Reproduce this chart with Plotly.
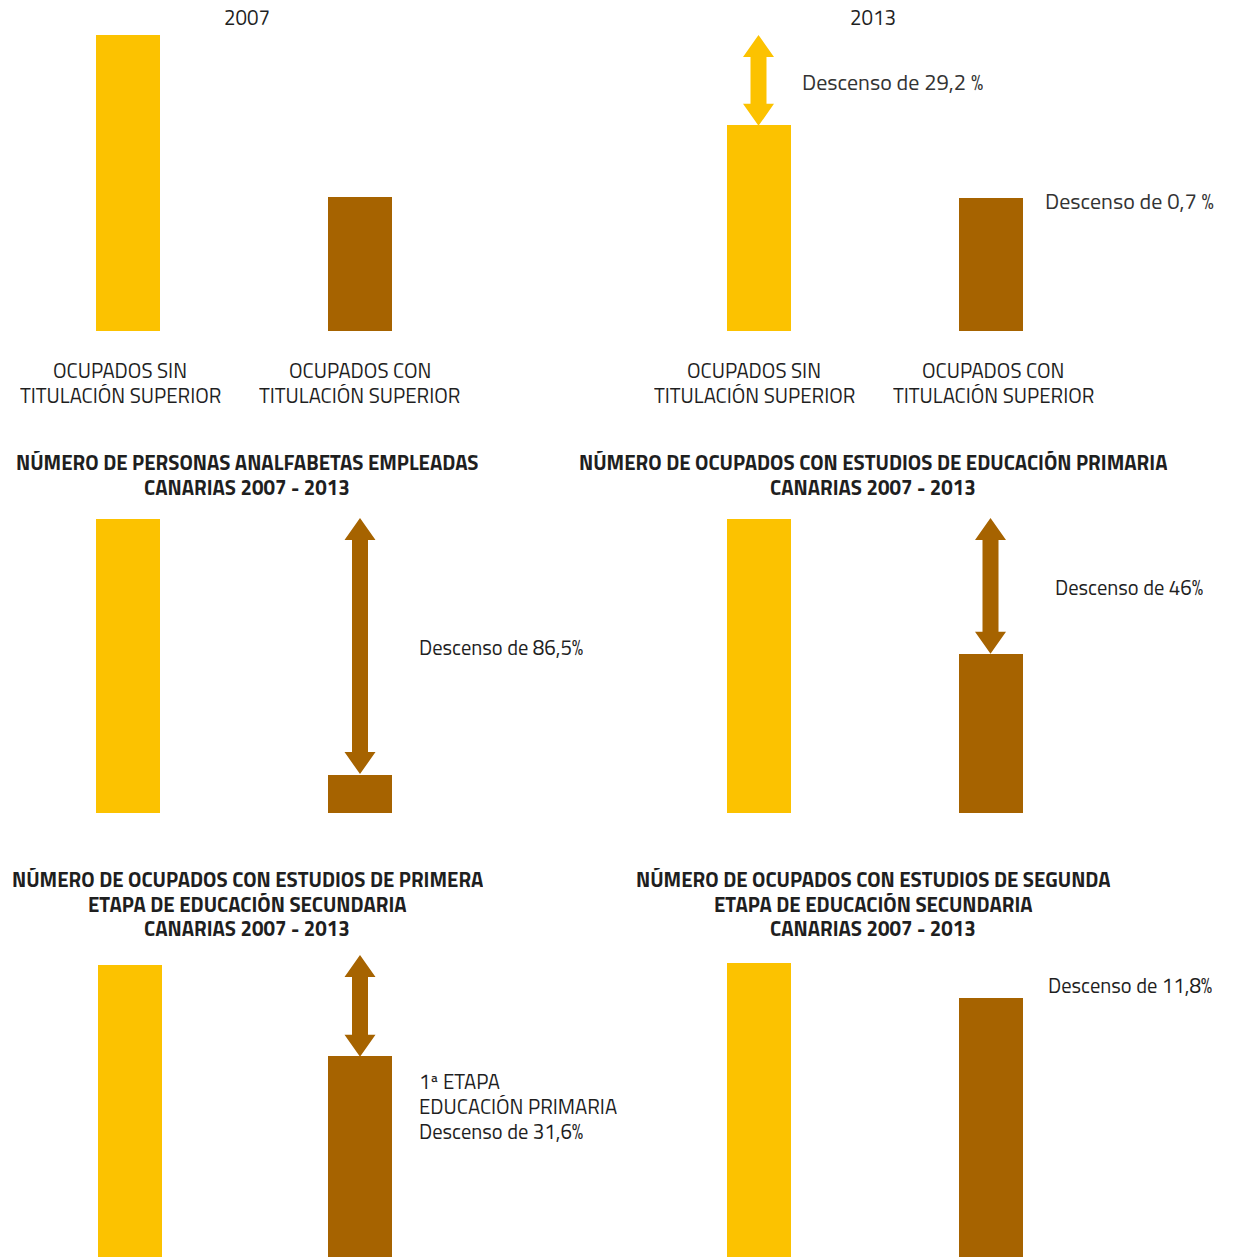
import plotly.graph_objects as go

# ---------------- data (relative size, 2007 "sin titulación" = 100) ----------------
categories = [["OCUPADOS SIN", "TITULACIÓN SUPERIOR"], ["OCUPADOS CON", "TITULACIÓN SUPERIOR"]]
panel_titles = [
    ["2007"],
    ["2013"],
    ["NÚMERO DE PERSONAS ANALFABETAS EMPLEADAS", "CANARIAS 2007 - 2013"],
    ["NÚMERO DE OCUPADOS CON ESTUDIOS DE EDUCACIÓN PRIMARIA", "CANARIAS 2007 - 2013"],
    ["NÚMERO DE OCUPADOS CON ESTUDIOS DE PRIMERA", "ETAPA DE EDUCACIÓN SECUNDARIA", "CANARIAS 2007 - 2013"],
    ["NÚMERO DE OCUPADOS CON ESTUDIOS DE SEGUNDA", "ETAPA DE EDUCACIÓN SECUNDARIA", "CANARIAS 2007 - 2013"],
]
yellow_values = [100, 69.3, 100, 100, 100, 100]
brown_values = [45, 44.7, 13.2, 54, 69, 88.2]
notes = [
    [],
    [],
    ["Descenso de 86,5%"],
    ["Descenso de 46%"],
    ["1ª ETAPA", "EDUCACIÓN PRIMARIA", "Descenso de 31,6%"],
    ["Descenso de 11,8%"],
]
note_2013_sin = "Descenso de 29,2 %"
note_2013_con = "Descenso de 0,7 %"
# arrows: (panel, bar index, from value, to value)
arrows = [(1, 0, 100, 69.3), (2, 1, 100, 13.2), (3, 1, 100, 54), (4, 1, 103.4, 69)]

# ---------------- style / layout ----------------
W, H = 1235, 1257
YEL = "#FCC200"
BRN = "#A66300"
FONT = "Titillium Web, Roboto, sans-serif"
TXT = "#1f1f1f"
FS = 20.5
LS = 24.8

def fx(px):
    return px / W

def fy(py):
    return 1 - py / H

centers0 = [128, 758.5, 128, 758.5, 130, 758.5]
spacing = [232, 232, 232, 232, 230, 232]
base_px = [331, 331, 813, 813, 1261, 1259]
top_px = [35, 35, 518, 518, 965, 963]
EXT = 10  # extra headroom above value 100 (for arrows)

fig = go.Figure()

for i in range(6):
    ax = "" if i == 0 else str(i + 1)
    left = i % 2 == 0
    dom_x0, dom_x1 = (0, 617.5) if left else (617.5, W)
    sp = spacing[i]
    a = -(centers0[i] - dom_x0) / sp
    b = a + (dom_x1 - dom_x0) / sp
    ppv = (base_px[i] - top_px[i]) / 100.0
    ydom_bot_px = min(base_px[i], H)
    r0 = (base_px[i] - ydom_bot_px) / ppv
    fig.add_trace(go.Bar(
        x=[0, 1], y=[yellow_values[i], brown_values[i]],
        marker=dict(color=[YEL, BRN], line=dict(width=0)),
        width=64 / sp,
        xaxis="x" + ax, yaxis="y" + ax, showlegend=False, hoverinfo="skip",
    ))
    fig.update_layout(**{
        "xaxis" + ax: dict(domain=[fx(dom_x0), fx(dom_x1)], range=[a, b], visible=False,
                           anchor="y" + ax, fixedrange=True),
        "yaxis" + ax: dict(domain=[fy(ydom_bot_px), fy(top_px[i] - EXT * ppv)],
                           range=[r0, 100 + EXT],
                           visible=False, anchor="x" + ax, fixedrange=True),
    })

# arrows as block double-arrows in data coordinates
for (p, bi, v_top, v_bot) in arrows:
    ax = "" if p == 0 else str(p + 1)
    ppv = (base_px[p] - top_px[p]) / 100.0
    sp = spacing[p]
    sw = 8 / sp
    hw = 15.5 / sp
    hl = 22 / ppv
    cx = bi
    y1, y0 = v_top, v_bot
    pts = [(cx, y1), (cx + hw, y1 - hl), (cx + sw, y1 - hl), (cx + sw, y0 + hl),
           (cx + hw, y0 + hl), (cx, y0), (cx - hw, y0 + hl), (cx - sw, y0 + hl),
           (cx - sw, y1 - hl), (cx - hw, y1 - hl)]
    path = "M " + " L ".join(f"{x:.5f},{y:.4f}" for x, y in pts) + " Z"
    fig.add_shape(type="path", path=path, xref="x" + ax, yref="y" + ax,
                  fillcolor=YEL if bi == 0 else BRN, line=dict(width=0), layer="above")

ann = []

def text(x, y, lines, anchor="center", size=FS, color=TXT, bold=False, ls=LS):
    n = len(lines)
    for k, s in enumerate(lines):
        yy = y + (k - (n - 1) / 2) * ls
        ann.append(dict(x=fx(x), y=fy(yy), xref="paper", yref="paper",
                        text=f"<b>{s}</b>" if bold else s, showarrow=False,
                        xanchor=anchor, yanchor="middle", height=int(ls) - 2,
                        font=dict(family=FONT, size=size, color=color)))

# panel titles
text(247, 17, panel_titles[0])
text(873, 17, panel_titles[1])
text(247, 474.5, panel_titles[2], bold=True)
text(873, 474.5, panel_titles[3], bold=True)
text(247, 903.5, panel_titles[4], bold=True, ls=24.5)
text(873, 903.5, panel_titles[5], bold=True, ls=24.5)

# category labels under top panels
text(120, 382.5, categories[0])
text(360, 382.5, categories[1])
text(754, 382.5, categories[0])
text(993, 382.5, categories[1])

# notes
text(800, 82, [note_2013_sin], anchor="left", size=22, color="#333333")
text(1043, 201, [note_2013_con], anchor="left", size=22, color="#333333")
text(417, 647, notes[2], anchor="left")
text(1053, 587, notes[3], anchor="left")
text(417, 1106, notes[4], anchor="left")
text(1046, 985, notes[5], anchor="left")

fig.update_layout(
    width=W, height=H,
    margin=dict(l=0, r=0, t=0, b=0),
    paper_bgcolor="white", plot_bgcolor="rgba(0,0,0,0)",
    annotations=ann, bargap=0,
    font=dict(family=FONT),
)

fig.write_html("out.html", config={"displayModeBar": False},
               post_script="document.body.style.margin='0px';document.body.style.overflow='hidden';")
